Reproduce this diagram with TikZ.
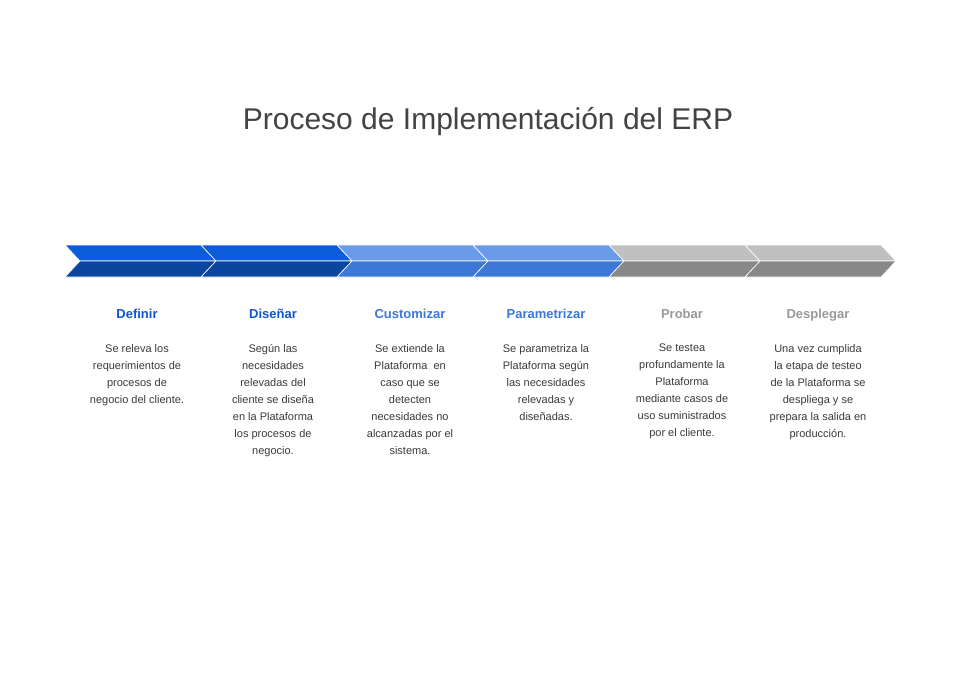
\documentclass[tikz,border=0pt]{standalone}
\usepackage{fontspec}
\setmainfont{Liberation Sans}
\definecolor{bA}{HTML}{0B5CDA}\definecolor{bAd}{HTML}{0A459F}
\definecolor{bB}{HTML}{6A9BEB}\definecolor{bBd}{HTML}{3B78D8}
\definecolor{gA}{HTML}{C0C0C0}\definecolor{gAd}{HTML}{888888}
\definecolor{tA}{HTML}{1155CC}\definecolor{tB}{HTML}{3C78D8}\definecolor{tC}{HTML}{999999}
\definecolor{tt}{HTML}{434343}\definecolor{bd}{HTML}{3A3A3A}
\begin{document}
\begin{tikzpicture}[x=1pt,y=-1pt,
 head/.style={font=\bfseries\fontsize{13}{15}\selectfont,anchor=base},
 body/.style={font=\fontsize{11}{17}\selectfont,text=bd,align=center,anchor=north,inner sep=0pt}]
\useasboundingbox[fill=white] (0,0) rectangle (960,675);
\node[text=tt,font=\fontsize{30}{34}\selectfont] (title) at (488,122) {Proceso de Implementación del ERP};
\foreach \i/\ct/\cb in {0/bA/bAd,1/bA/bAd,2/bB/bBd,3/bB/bBd,4/gA/gAd,5/gA/gAd}{
 \pgfmathsetmacro\xo{65+136*\i}
 \fill[\ct,draw=white,line width=0.6pt] (\xo,245)--(\xo+136,245)--(\xo+151,261)--(\xo+15,261)--cycle;
 \fill[\cb,draw=white,line width=0.6pt] (\xo+15,261)--(\xo+151,261)--(\xo+136,277)--(\xo,277)--cycle;
}
\node[head,text=tA] (h1) at (137,318) {Definir};
\node[head,text=tA] (h2) at (273,318) {Diseñar};
\node[head,text=tB] (h3) at (410,318) {Customizar};
\node[head,text=tB] (h4) at (546,318) {Parametrizar};
\node[head,text=tC] (h5) at (682,318) {Probar};
\node[head,text=tC] (h6) at (818,318) {Desplegar};
\node[body] (d1) at (137,344) {Se releva los\\requerimientos de\\procesos de\\negocio del cliente.};
\node[body] (d2) at (273,344) {Según las\\necesidades\\relevadas del\\cliente se diseña\\en la Plataforma\\los procesos de\\negocio.};
\node[body] (d3) at (410,344) {Se extiende la\\Plataforma\ \ en\\caso que se\\detecten\\necesidades no\\alcanzadas por el\\sistema.};
\node[body] (d4) at (546,344) {Se parametriza la\\Plataforma según\\las necesidades\\relevadas y\\diseñadas.};
\node[body] (d5) at (682,344) {Se testea\\profundamente la\\Plataforma\\mediante casos de\\uso suministrados\\por el cliente.};
\node[body] (d6) at (818,344) {Una vez cumplida\\la etapa de testeo\\de la Plataforma se\\despliega y se\\prepara la salida en\\producción.};
\end{tikzpicture}
\end{document}
